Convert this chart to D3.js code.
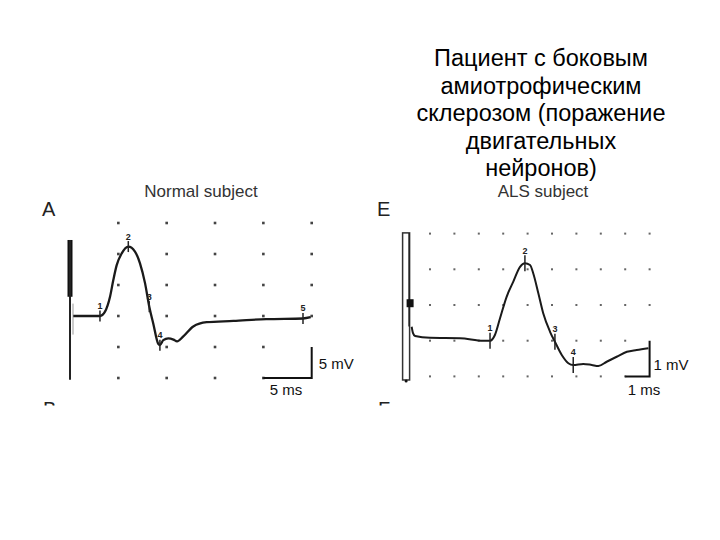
<!DOCTYPE html>
<html><head><meta charset="utf-8">
<script src="https://cdn.jsdelivr.net/npm/d3@7"></script>
<style>html,body{margin:0;padding:0;background:#fff}svg{display:block}</style>
</head><body>
<svg id="c" width="720" height="540"></svg>
<script>
// ---- data ----
const titleLines = ["Пациент с боковым","амиотрофическим","склерозом (поражение","двигательных","нейронов)"];
const panelTitles = ["Normal subject","ALS subject"];
const panelLetters = ["A","E"];
const cutLetters = ["B","F"];
// Panel A: time (ms), amplitude (mV)
const normalT = [0.34,3.1,3.62,4.14,4.48,4.83,5.35,6.03,6.72,7.24,7.76,8.2,8.61,9.13,9.3,9.65,10.17,10.7,11.07,11.72,12.75,14.14,16.9,20.3,24.1,24.9];
const normalV = [0,0,0.7,3.1,5.8,8.2,10.1,11.2,10.4,8.5,5.3,1.5,-1.2,-4.5,-4.7,-3.9,-3.6,-3.8,-4.1,-3.3,-1.7,-1.0,-0.8,-0.5,-0.4,-0.2];
const normalMarkers = [3.1,6.03,8.2,9.3,24.1];
const normalGridT = [5,10,15,20,25];
const normalGridV = [15,10,5,0,-5,-10];
const normalScale = {ms:5, mV:5, msLabel:"5 ms", mVLabel:"5 mV"};
// Panel E
const alsT = [0.25,0.3,0.39,1.0,2.23,3.18,3.46,3.66,3.87,4.14,4.41,4.69,4.89,5.1,5.23,5.44,5.64,5.92,6.12,6.4,6.67,6.87,7.28,7.63,7.9,8.24,8.65,9.07,9.47,9.95];
const alsV = [0.39,0.22,0.13,0.08,0.07,0,0,0.16,0.63,1.23,1.65,2.07,2.17,2.12,1.89,1.33,0.77,0.25,-0.03,-0.4,-0.63,-0.68,-0.65,-0.68,-0.71,-0.59,-0.45,-0.31,-0.26,-0.21];
const alsMarkers = [3.46,4.89,6.12,6.87];
const alsGridT = [1,2,3,4,5,6,7,8,9,10];
const alsGridV = [3,2,1,0,-1];
const alsScale = {ms:1, mV:1, msLabel:"1 ms", mVLabel:"1 mV"};

const svg = d3.select("#c");
const FONT = "'Liberation Sans', Arial, sans-serif";

// Russian title
svg.append("g").selectAll("text").data(titleLines).join("text")
  .attr("x", 541).attr("y", (d,i)=>66+i*27.6)
  .attr("text-anchor","middle").attr("font-family",FONT).attr("font-size",23.5)
  .attr("fill","#000").text(d=>d);

// clip for cut letters
svg.append("defs").append("clipPath").attr("id","cut")
  .append("rect").attr("x",0).attr("y",0).attr("width",720).attr("height",405.5);

function panel(cfg){
  const x = d3.scaleLinear().domain([0,cfg.tMax]).range([cfg.x0,cfg.x1]);
  const y = d3.scaleLinear().domain([0,1]).range([cfg.y0,cfg.y0-cfg.pxPerMV]);
  const g = svg.append("g");
  // titles
  g.append("text").attr("x",cfg.titleX).attr("y",197).attr("text-anchor","middle")
    .attr("font-family",FONT).attr("font-size",17).attr("fill","#333").text(cfg.title);
  g.append("text").attr("x",cfg.letterX).attr("y",216).attr("font-family",FONT)
    .attr("font-size",20).attr("fill","#222").text(cfg.letter);
  g.append("text").attr("x",cfg.letterX+1).attr("y",415.5).attr("font-family",FONT)
    .attr("font-size",20).attr("fill","#222").attr("clip-path","url(#cut)").text(cfg.cut);
  // grid dots
  const pts = [];
  cfg.gridT.forEach(t=>cfg.gridV.forEach(v=>pts.push([t,v])));
  g.append("g").selectAll("rect").data(pts.filter(p=>!(cfg.skipDot && cfg.skipDot(p)))).join("rect")
    .attr("x",d=>x(d[0])-cfg.dot/2).attr("y",d=>y(d[1])-cfg.dot/2)
    .attr("width",cfg.dot).attr("height",cfg.dot).attr("fill",cfg.dotColor);
  // stimulus artifact
  cfg.drawBar(g,x,y);
  // trace
  const data = cfg.T.map((t,i)=>[t,cfg.V[i]]);
  const line = d3.line().x(d=>x(d[0])).y(d=>y(d[1])).curve(d3.curveMonotoneX);
  g.append("path").datum(data).attr("d",line).attr("fill","none")
    .attr("stroke","#1a1a1a").attr("stroke-width",cfg.lw).attr("stroke-linejoin","round");
  // markers
  const interp = t=>{
    for(let i=0;i<data.length-1;i++){
      if(t>=data[i][0] && t<=data[i+1][0]){
        const f=(t-data[i][0])/(data[i+1][0]-data[i][0]);
        return data[i][1]+f*(data[i+1][1]-data[i][1]);
      }
    }
    return data[data.length-1][1];
  };
  cfg.markers.forEach((t,i)=>{
    const mx = x(t), my = y(interp(t));
    const h = cfg.tickH;
    g.append("line").attr("x1",mx).attr("x2",mx).attr("y1",my-h/2).attr("y2",my+h/2)
      .attr("stroke","#222").attr("stroke-width",1.5);
    g.append("text").attr("x",mx).attr("y",my-h/2-1.5).attr("text-anchor","middle")
      .attr("font-family",FONT).attr("font-size",9).attr("font-weight","bold")
      .attr("fill","#222").text(i+1);
  });
  // scale bar
  const sx1 = x(cfg.gridT[cfg.gridT.length-1]);
  const sx0 = x(cfg.gridT[cfg.gridT.length-1]-cfg.scale.ms);
  const sy1 = y(cfg.gridV[cfg.gridV.length-1]);
  const sy0 = y(cfg.gridV[cfg.gridV.length-1]+cfg.scale.mV);
  g.append("path").attr("d",`M${sx0},${sy1}H${sx1}V${sy0}`).attr("fill","none")
    .attr("stroke","#111").attr("stroke-width",2);
  g.append("text").attr("x",sx1+cfg.mvDx).attr("y",(sy0+sy1)/2+cfg.mvDy).attr("font-family",FONT)
    .attr("font-size",15).attr("fill","#111").text(cfg.scale.mVLabel);
  g.append("text").attr("x",cfg.msX).attr("y",395).attr("text-anchor","middle").attr("font-family",FONT)
    .attr("font-size",15).attr("fill","#111").text(cfg.scale.msLabel);
}

panel({
  title:panelTitles[0], titleX:201, letter:panelLetters[0], letterX:42, cut:cutLetters[0],
  tMax:25, x0:70, x1:311.7, y0:316, pxPerMV:6.2,
  T:normalT, V:normalV, markers:normalMarkers, gridT:normalGridT, gridV:normalGridV,
  dot:2.6, dotColor:"#444", lw:2.3, tickH:11, scale:normalScale, mvDx:7, mvDy:6, msX:286,
  skipDot:p=>p[0]===25 && p[1]<=-5,
  drawBar:(g,x,y)=>{
    g.append("rect").attr("x",x(0)-2.5).attr("y",y(12.26)).attr("width",5)
      .attr("height",y(3.1)-y(12.26)).attr("fill","#111");
    g.append("line").attr("x1",x(0)).attr("x2",x(0)).attr("y1",y(12.26)).attr("y2",y(-10.3))
      .attr("stroke","#222").attr("stroke-width",2);
    g.append("line").attr("x1",x(0)+3).attr("x2",x(0)+3).attr("y1",y(2)).attr("y2",y(-3))
      .attr("stroke","#999").attr("stroke-width",1);
  }
});

panel({
  title:panelTitles[1], titleX:543, letter:panelLetters[1], letterX:377, cut:cutLetters[1],
  tMax:10, x0:405.6, x1:649.6, y0:340.7, pxPerMV:35.7,
  T:alsT, V:alsV, markers:alsMarkers, gridT:alsGridT, gridV:alsGridV,
  dot:2, dotColor:"#666", lw:2, tickH:16, scale:alsScale, mvDx:4, mvDy:11, msX:644,
  skipDot:p=>p[0]===10 && p[1]<=0,
  drawBar:(g,x,y)=>{
    g.append("rect").attr("x",x(0)-3).attr("y",y(3.02)).attr("width",7)
      .attr("height",y(-1.1)-y(3.02)).attr("fill","#fff").attr("stroke","#333").attr("stroke-width",1.5);
    g.append("line").attr("x1",x(0)+3.5).attr("x2",x(0)+3.5).attr("y1",y(3.02)).attr("y2",y(0.4))
      .attr("stroke","#222").attr("stroke-width",1.5);
    g.append("rect").attr("x",x(0)+1).attr("y",y(1.05)-4).attr("width",7).attr("height",8).attr("fill","#111");
    g.append("circle").attr("cx",x(0)+0.5).attr("cy",y(-1.1)+1).attr("r",1.5).attr("fill","#111");
  }
});
</script>
</body></html>
